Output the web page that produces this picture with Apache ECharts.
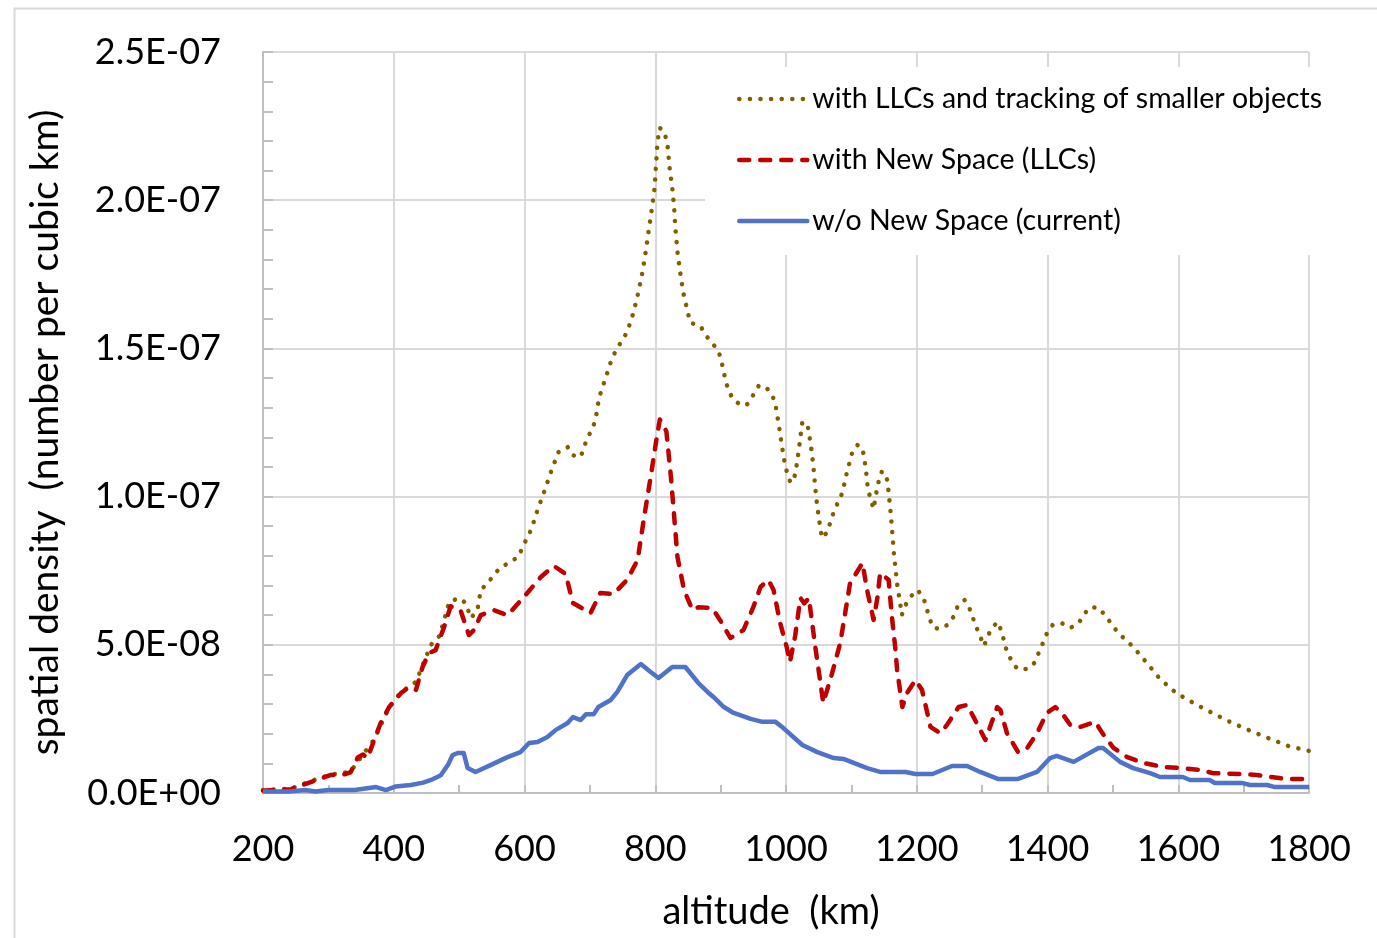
<!DOCTYPE html>
<html>
<head>
<meta charset="utf-8">
<script src="https://cdn.jsdelivr.net/npm/echarts@6/dist/echarts.min.js"></script>
<style>
html,body{margin:0;padding:0;background:#fff;}
#chart{width:1377px;height:938px;}
</style>
</head>
<body>
<div id="chart"></div>
<script>
// values in units of 1E-08 (number per cubic km)
const seriesNames = [
  'with LLCs and tracking of smaller objects',
  'with New Space (LLCs)',
  'w/o New Space (current)'
];
const yTickLabels = ['0.0E+00','5.0E-08','1.0E-07','1.5E-07','2.0E-07','2.5E-07'];

const altOlive = [200,243,273,304,334,353,370,393,411,424,434,444,457,470,485,500,510,518,528,533,544,553,564,576,590,597,603,610,620,631,642,652,666,673,686,696,704,709,714,724,734,742,757,767,775,781,786,790,795,799,801,803,806,811,816,819,822,826,829,831,834,838,843,850,854,869,877,887,897,903,908,913,920,933,941,950,958,968,979,984,989,994,999,1007,1014,1019,1025,1033,1038,1042,1046,1050,1055,1063,1073,1086,1093,1101,1109,1117,1122,1125,1129,1134,1137,1143,1147,1155,1160,1165,1170,1175,1177,1182,1190,1201,1210,1219,1224,1234,1247,1256,1262,1273,1280,1291,1303,1308,1315,1324,1330,1338,1346,1354,1369,1380,1393,1399,1408,1421,1435,1448,1456,1466,1479,1490,1499,1508,1520,1531,1552,1572,1597,1623,1652,1679,1707,1737,1768,1800];
const olive = [0.1,0.15,0.4,0.62,0.72,1.3,1.8,2.9,3.4,3.6,3.75,4.3,5.0,5.3,6.45,6.58,6.41,5.9,6.17,6.85,7.08,7.36,7.62,7.76,7.96,8.27,8.57,8.87,9.55,10.22,10.93,11.5,11.67,11.4,11.34,11.98,12.28,12.65,13.33,14.0,14.68,15.01,15.55,16.23,16.97,17.65,18.35,18.99,19.74,20.41,21.12,21.8,22.44,22.4,22.13,21.8,21.09,20.41,19.7,18.99,18.25,17.58,16.87,16.19,15.86,15.76,15.45,15.18,14.91,14.4,13.87,13.53,13.26,13.06,13.12,13.43,13.73,13.73,13.43,13.09,12.42,11.67,11.0,10.46,10.73,11.47,12.52,12.42,11.74,11.0,9.99,9.31,8.6,8.8,9.48,10.12,10.8,11.47,11.74,11.64,10.97,10.29,9.95,9.58,9.99,10.66,10.86,10.56,9.48,8.1,7.05,6.34,6.0,6.31,6.61,6.85,6.61,5.94,5.6,5.53,5.67,5.94,6.27,6.51,6.27,5.6,4.96,5.26,5.57,5.77,5.43,4.76,4.42,4.18,4.18,4.39,5.06,5.38,5.67,5.74,5.57,5.74,6.04,6.27,6.24,5.94,5.67,5.4,5.16,4.93,4.39,3.85,3.37,3.04,2.7,2.4,2.13,1.86,1.59,1.42];

const altRed = [200,243,273,304,320,334,345,353,360,370,380,393,411,424,434,444,454,464,477,487,502,515,523,533,553,574,599,625,645,663,674,701,716,736,757,773,783,793,801,807,817,824,829,834,844,857,866,887,899,915,935,950,961,973,981,991,1001,1006,1014,1022,1028,1035,1045,1057,1070,1083,1098,1117,1124,1134,1140,1144,1157,1162,1167,1170,1178,1185,1198,1208,1221,1236,1246,1264,1277,1287,1305,1323,1328,1338,1355,1369,1384,1399,1412,1422,1435,1450,1473,1484,1501,1522,1547,1577,1603,1633,1653,1694,1720,1741,1766,1800];
const red = [0.08,0.13,0.37,0.61,0.6,0.7,1.2,1.3,1.18,1.79,2.36,2.9,3.37,3.58,3.48,4.25,4.72,4.82,5.6,6.3,6.17,5.33,5.5,6.0,6.17,6.0,6.61,7.29,7.66,7.39,6.41,6.07,6.75,6.71,7.19,7.86,9.31,10.66,11.81,12.6,12.2,10.66,9.31,7.96,6.85,6.17,6.27,6.24,5.84,5.23,5.5,6.27,6.95,7.19,6.85,5.74,4.93,4.42,5.3,6.58,6.4,6.58,4.9,3.04,4.0,5.06,7.08,7.76,6.85,5.84,6.61,7.42,7.19,5.94,4.93,4.15,2.9,3.37,3.81,3.48,2.23,2.02,2.29,2.9,2.97,2.56,1.79,2.9,2.8,2.02,1.38,1.52,2.02,2.7,2.9,2.7,2.29,2.23,2.4,2.02,1.52,1.21,1.01,0.88,0.84,0.78,0.67,0.64,0.61,0.54,0.47,0.47];

const altBlue = [200,240,265,280,300,340,373,388,403,426,445,457,472,483,490,498,507,513,525,548,574,594,607,620,635,648,666,674,686,694,706,713,732,742,757,778,792,805,826,846,866,880,889,905,920,946,964,984,996,1025,1048,1073,1088,1124,1144,1183,1198,1224,1254,1277,1297,1325,1354,1384,1404,1414,1440,1478,1485,1511,1531,1557,1572,1607,1618,1648,1656,1697,1710,1736,1748,1800];
const blue = [0.05,0.05,0.1,0.05,0.1,0.1,0.2,0.1,0.22,0.27,0.35,0.44,0.6,0.95,1.28,1.35,1.35,0.84,0.71,0.94,1.21,1.38,1.69,1.72,1.89,2.13,2.36,2.56,2.46,2.66,2.66,2.9,3.14,3.41,3.98,4.35,4.1,3.88,4.25,4.25,3.71,3.41,3.24,2.9,2.7,2.5,2.4,2.4,2.19,1.62,1.38,1.18,1.15,0.84,0.71,0.71,0.64,0.64,0.91,0.91,0.71,0.47,0.47,0.71,1.18,1.25,1.05,1.52,1.52,1.05,0.84,0.67,0.54,0.54,0.44,0.44,0.34,0.34,0.27,0.27,0.2,0.2];

function pairs(xs, ys){ return xs.map((x,i)=>[x, ys[i]]); }

const FONT = 'Lato';
const chart = echarts.init(document.getElementById('chart'), null, {renderer:'canvas'});
chart.setOption({
  backgroundColor:'#ffffff',
  animation:false,
  textStyle:{fontFamily:FONT},
  graphic:[{
    type:'rect', left:12, top:6, z:-10, silent:true,
    shape:{x:0,y:0,width:1400,height:1000},
    style:{fill:'none', stroke:'#d9d9d9', lineWidth:2}
  }],
  grid:{left:263, top:52, width:1046, height:741, containLabel:false},
  legend:{
    orient:'vertical', left:705, top:67,
    backgroundColor:'#ffffff',
    padding:[16, 80, 18, 32],
    itemGap:29, itemWidth:68, itemHeight:14,
    itemStyle:{opacity:0},
    lineStyle:{width:4.5, cap:'round'},
    textStyle:{fontFamily:FONT, fontSize:28.5, color:'#000', lineHeight:32},
    data:seriesNames
  },
  xAxis:{
    type:'value', min:200, max:1800, interval:200,
    name:'altitude  (km)', nameLocation:'middle', nameGap:100,
    nameTextStyle:{fontFamily:FONT, fontSize:38, color:'#000', padding:[0,30,0,0]},
    axisLine:{show:true, lineStyle:{color:'#bfbfbf', width:2}},
    axisTick:{show:true, inside:true, length:8, lineStyle:{color:'#bfbfbf', width:2}},
    minorTick:{show:true, splitNumber:2, length:8, lineStyle:{color:'#bfbfbf', width:2}},
    axisLabel:{fontFamily:FONT, fontSize:36, color:'#000', margin:38,
      formatter:function(v){ return String(v); }},
    splitLine:{show:true, lineStyle:{color:'#d9d9d9', width:2}}
  },
  yAxis:{
    type:'value', min:0, max:25, interval:5,
    name:'spatial density  (number per cubic km)', nameLocation:'middle', nameGap:198,
    nameTextStyle:{fontFamily:FONT, fontSize:39, color:'#000', padding:[0,20,0,0]},
    axisLine:{show:true, lineStyle:{color:'#bfbfbf', width:2}},
    axisTick:{show:true, inside:true, length:10, lineStyle:{color:'#bfbfbf', width:2}},
    minorTick:{show:true, splitNumber:5, length:10, lineStyle:{color:'#bfbfbf', width:2}},
    axisLabel:{fontFamily:FONT, fontSize:36, color:'#000', margin:42,
      formatter:function(v){ return yTickLabels[Math.round(v/5)]; }},
    splitLine:{show:true, lineStyle:{color:'#d9d9d9', width:2}}
  },
  series:[
    {name:seriesNames[0], type:'line', data:pairs(altOlive, olive), showSymbol:false, symbol:'none',
      color:'#7F6000',
      lineStyle:{color:'#7F6000', width:4.5, type:[0.1,10.5], cap:'round', join:'round'}},
    {name:seriesNames[1], type:'line', data:pairs(altRed, red), showSymbol:false, symbol:'none',
      color:'#C00000',
      lineStyle:{color:'#C00000', width:4.5, type:[10,11], cap:'round', join:'round'}},
    {name:seriesNames[2], type:'line', data:pairs(altBlue, blue), showSymbol:false, symbol:'none',
      color:'#5072C8',
      lineStyle:{color:'#5072C8', width:4.5, join:'round'}}
  ]
});
</script>
</body>
</html>
